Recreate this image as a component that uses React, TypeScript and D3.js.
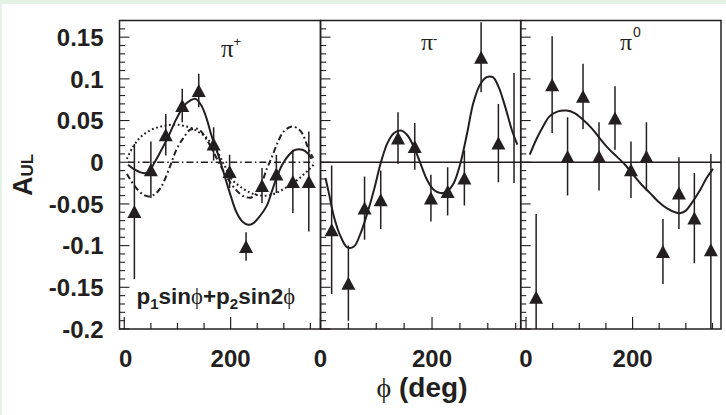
import React from "react";
import * as d3 from "d3";

// ---------- data ----------
const yMajorTicks = [-0.2, -0.15, -0.1, -0.05, 0, 0.05, 0.1, 0.15];
const yTickLabels = ["-0.2", "-0.15", "-0.1", "-0.05", "0", "0.05", "0.1", "0.15"];
const xMajorTicks = [0, 200];
const xTickLabels = ["0", "200"];
const xMinorTicks = [50, 100, 150, 250, 300, 350];

// pi+
const piPlusPhi = [19, 50, 78, 109, 140, 168, 198, 229, 259, 286, 317, 347];
const piPlusA = [-0.059, -0.009, 0.033, 0.068, 0.086, 0.022, -0.011, -0.101, -0.028, -0.014, -0.023, -0.023];
const piPlusErr = [0.081, 0.034, 0.025, 0.02, 0.02, 0.02, 0.02, 0.017, 0.021, 0.023, 0.038, 0.06];
const piPlusFitPhi = [7, 20, 35, 45, 58, 70, 83, 98, 114, 124, 134, 145, 155, 164, 177, 189, 200, 211, 222, 233, 243, 252, 268, 278, 288, 297, 310, 322, 335, 346, 352];
const piPlusFitA = [-0.003, -0.009, -0.013, -0.012, 0.001, 0.015, 0.031, 0.052, 0.069, 0.074, 0.076, 0.068, 0.052, 0.032, 0.008, -0.017, -0.04, -0.06, -0.071, -0.075, -0.073, -0.067, -0.052, -0.034, -0.016, -0.003, 0.009, 0.015, 0.015, 0.01, 0.004];
const piPlusDotPhi = [5, 15, 26, 38, 51, 64, 77, 90, 102, 115, 127, 140, 152, 162, 171, 187, 203, 222, 235, 247, 260, 272, 285, 297, 310, 322, 335, 347, 356];
const piPlusDotA = [0.004, 0.017, 0.027, 0.034, 0.039, 0.042, 0.044, 0.045, 0.045, 0.043, 0.041, 0.036, 0.031, 0.024, 0.017, -0.002, -0.021, -0.031, -0.036, -0.039, -0.04, -0.04, -0.037, -0.033, -0.028, -0.023, -0.016, -0.009, -0.003];
const piPlusDashDotPhi = [5, 20, 36, 48, 60, 70, 86, 98, 111, 124, 139, 155, 167, 180, 195, 210, 225, 240, 255, 268, 278, 288, 300, 316, 332, 347, 355];
const piPlusDashDotA = [-0.014, -0.029, -0.039, -0.041, -0.037, -0.029, -0.005, 0.015, 0.029, 0.039, 0.04, 0.027, 0.013, -0.003, -0.02, -0.033, -0.041, -0.042, -0.03, -0.008, 0.007, 0.023, 0.037, 0.043, 0.037, 0.015, 0.005];

// pi-
const piMinusPhi = [20, 50, 79, 108, 139, 169, 198, 228, 258, 288, 319, 347];
const piMinusA = [-0.081, -0.145, -0.055, -0.045, 0.029, 0.019, -0.043, -0.035, -0.019, 0.126, 0.023, 0.041];
const piMinusErr = [0.077, 0.045, 0.038, 0.035, 0.031, 0.028, 0.028, 0.029, 0.033, 0.042, 0.047, 0.066];
const piMinusMarker = [true, true, true, true, true, true, true, true, true, true, true, false];
const piMinusFitPhi = [9, 15, 24, 36, 48, 60, 72, 84, 96, 108, 120, 132, 144, 155, 167, 179, 191, 203, 215, 227, 239, 251, 263, 274, 286, 298, 309, 319, 331, 343, 353];
const piMinusFitA = [-0.019, -0.037, -0.065, -0.089, -0.102, -0.101, -0.085, -0.061, -0.033, -0.001, 0.023, 0.035, 0.038, 0.033, 0.019, -0.001, -0.021, -0.033, -0.037, -0.035, -0.025, -0.001, 0.035, 0.071, 0.093, 0.102, 0.102, 0.091, 0.067, 0.039, 0.021];

// pi0
const piZeroPhi = [19, 49, 78, 107, 137, 167, 197, 226, 257, 287, 316, 347];
const piZeroA = [-0.162, 0.093, 0.007, 0.079, 0.007, 0.053, -0.009, 0.007, -0.107, -0.037, -0.067, -0.105];
const piZeroErr = [0.1, 0.058, 0.047, 0.039, 0.041, 0.038, 0.034, 0.041, 0.039, 0.043, 0.054, 0.115];
const piZeroFitPhi = [7, 19, 32, 44, 60, 76, 91, 107, 123, 138, 154, 170, 186, 201, 217, 233, 248, 264, 280, 290, 300, 311, 327, 339, 351];
const piZeroFitA = [0.009, 0.027, 0.043, 0.055, 0.061, 0.062, 0.059, 0.051, 0.041, 0.029, 0.017, 0.007, -0.003, -0.015, -0.027, -0.037, -0.047, -0.055, -0.06, -0.061, -0.058, -0.049, -0.033, -0.019, -0.008];

// ---------- layout ----------
const TOP = 20.5;
const BOTTOM = 329;
const INK = "#231f20";
const SANS = "'Liberation Sans', Arial, Helvetica, sans-serif";
const SERIF = "'Liberation Serif', 'DejaVu Serif', serif";

const yScale = d3.scaleLinear().domain([-0.2, 0.17]).range([BOTTOM, TOP]);
const yMinor = d3.range(-20, 18).map((i) => i / 100);

type Panel = {
  key: string;
  x0: number;
  x1: number;
  dom: [number, number];
  phi: number[];
  a: number[];
  err: number[];
  marker: boolean[];
  fits: { phi: number[]; a: number[]; dash?: string; width: number }[];
  zeroDash?: string;
  zeroRange: [number, number] | null;
};

const panels: Panel[] = [
  {
    key: "plus",
    x0: 119.5,
    x1: 320.5,
    dom: [-9, 369],
    phi: piPlusPhi,
    a: piPlusA,
    err: piPlusErr,
    marker: piPlusPhi.map(() => true),
    fits: [
      { phi: piPlusDotPhi, a: piPlusDotA, dash: "1.8,2.6", width: 2 },
      { phi: piPlusDashDotPhi, a: piPlusDashDotA, dash: "6,3,1.8,3", width: 2 },
      { phi: piPlusFitPhi, a: piPlusFitA, width: 2 },
    ],
    zeroDash: "7,3,1.6,3",
    zeroRange: [7, 356],
  },
  {
    key: "minus",
    x0: 320.5,
    x1: 520.7,
    dom: [0, 359],
    phi: piMinusPhi,
    a: piMinusA,
    err: piMinusErr,
    marker: piMinusMarker,
    fits: [{ phi: piMinusFitPhi, a: piMinusFitA, width: 2 }],
    zeroRange: null,
  },
  {
    key: "zero",
    x0: 520.7,
    x1: 721,
    dom: [-10, 366],
    phi: piZeroPhi,
    a: piZeroA,
    err: piZeroErr,
    marker: piZeroPhi.map(() => true),
    fits: [{ phi: piZeroFitPhi, a: piZeroFitA, width: 2 }],
    zeroRange: null,
  },
];

function PanelView({ p, idx }: { p: Panel; idx: number }) {
  const x = d3.scaleLinear().domain(p.dom).range([p.x0, p.x1]);
  const clipId = `clip-${p.key}`;
  const tri = (cx: number, cy: number) => {
    const w = 14, h = 13;
    return `M${cx - w / 2},${cy + h / 2}L${cx + w / 2},${cy + h / 2}L${cx},${cy - h / 2}Z`;
  };
  return (
    <g>
      <defs>
        <clipPath id={clipId}>
          <rect x={p.x0} y={TOP} width={p.x1 - p.x0} height={BOTTOM - TOP} />
        </clipPath>
      </defs>
      {yMinor.map((v, i) => {
        const major = Math.abs(Math.round(v * 100) % 5) === 0;
        return (
          <line key={`ym${i}`} x1={p.x0} x2={p.x0 + (major ? 10 : 5.5)} y1={yScale(v)} y2={yScale(v)} stroke={INK} strokeWidth={1.1} />
        );
      })}
      {xMajorTicks.filter((t) => t >= p.dom[0] && t <= p.dom[1]).map((t) => (
        <line key={`xM${t}`} x1={x(t)} x2={x(t)} y1={BOTTOM} y2={BOTTOM - 12} stroke={INK} strokeWidth={1.2} />
      ))}
      {xMinorTicks.filter((t) => t >= p.dom[0] && t <= p.dom[1]).map((t) => (
        <line key={`xm${t}`} x1={x(t)} x2={x(t)} y1={BOTTOM} y2={BOTTOM - 6} stroke={INK} strokeWidth={1.2} />
      ))}
      {xMajorTicks.map((t, i) => (
        <text key={`xl${t}`} x={x(t) + (i === 0 && idx === 0 ? 1.5 : 0)} y={366.5} textAnchor="middle" fontFamily={SANS} fontWeight="bold" fontSize={24} fill={INK}>
          {xTickLabels[i]}
        </text>
      ))}
      <g clipPath={`url(#${clipId})`}>
        {p.zeroRange ? (
          <line x1={x(p.zeroRange[0])} x2={x(p.zeroRange[1])} y1={yScale(0)} y2={yScale(0)} stroke={INK} strokeWidth={1.4} strokeDasharray={p.zeroDash} />
        ) : (
          <line x1={p.x0} x2={p.x1} y1={yScale(0)} y2={yScale(0)} stroke={INK} strokeWidth={1.3} />
        )}
        {p.fits.map((f, i) => {
          const pts: [number, number][] = f.phi.map((ph, j) => [x(ph), yScale(f.a[j])]);
          const path = d3.line().curve(d3.curveCatmullRom.alpha(0.5))(pts) || "";
          return <path key={`f${i}`} d={path} fill="none" stroke={INK} strokeWidth={f.width} strokeDasharray={f.dash} />;
        })}
        {p.phi.map((ph, j) => (
          <line key={`e${j}`} x1={x(ph)} x2={x(ph)} y1={yScale(p.a[j] - p.err[j])} y2={yScale(p.a[j] + p.err[j])} stroke={INK} strokeWidth={1.5} />
        ))}
        {p.phi.map((ph, j) =>
          p.marker[j] ? <path key={`m${j}`} d={tri(x(ph), yScale(p.a[j]))} fill={INK} /> : null
        )}
      </g>
    </g>
  );
}

export default function App() {
  return (
    <svg width={726} height={415} style={{ position: "fixed", left: 0, top: 0, background: "#fff" }}>
      <rect x={0} y={0} width={726} height={415} fill="#e4f2e5" />
      <rect x={2} y={4} width={724} height={411} fill="#ffffff" />
      {panels.map((p, i) => (
        <PanelView key={p.key} p={p} idx={i} />
      ))}
      {panels.map((p) => (
        <rect key={`fr${p.key}`} x={p.x0} y={TOP} width={p.x1 - p.x0} height={BOTTOM - TOP} fill="none" stroke={INK} strokeWidth={1.5} />
      ))}
      {yMajorTicks.map((v, i) => (
        <text key={`yl${i}`} x={103.5} y={yScale(v)} dy="0.36em" textAnchor="end" fontFamily={SANS} fontWeight="bold" fontSize={24} fill={INK}>
          {yTickLabels[i]}
        </text>
      ))}
      {/* panel titles */}
      <text x={221} y={57} fontFamily={SERIF} fontSize={25} fill={INK}>π</text>
      <text x={233.5} y={46} fontFamily={SANS} fontSize={13} fill={INK}>+</text>
      <text x={421} y={50} fontFamily={SERIF} fontSize={24} fill={INK}>π</text>
      <text x={433} y={43} fontFamily={SANS} fontSize={13} fill={INK}>-</text>
      <text x={620} y={50} fontFamily={SERIF} fontSize={24} fill={INK}>π</text>
      <text x={633} y={37} fontFamily={SANS} fontSize={14} fill={INK}>0</text>
      {/* legend formula */}
      <text x={136.5} y={303.5} fontFamily={SANS} fontWeight="bold" fontSize={22.5} fill={INK}>
        p<tspan fontSize={15} dy={5}>1</tspan>
        <tspan dy={-5}>sin</tspan>
        <tspan fontFamily={SERIF} fontWeight="normal">ϕ</tspan>
        <tspan>+p</tspan>
        <tspan fontSize={15} dy={5}>2</tspan>
        <tspan dy={-5}>sin2</tspan>
        <tspan fontFamily={SERIF} fontWeight="normal">ϕ</tspan>
      </text>
      {/* axis titles */}
      <text transform="translate(32,175) rotate(-90)" textAnchor="middle" fontFamily={SANS} fontWeight="bold" fontSize={27} fill={INK}>
        A<tspan fontSize={17} dy={1}>UL</tspan>
      </text>
      <text x={422} y={397} textAnchor="middle" fontFamily={SANS} fontWeight="bold" fontSize={28} fill={INK}>
        <tspan fontFamily={SERIF} fontWeight="normal">ϕ</tspan> (deg)
      </text>
    </svg>
  );
}
